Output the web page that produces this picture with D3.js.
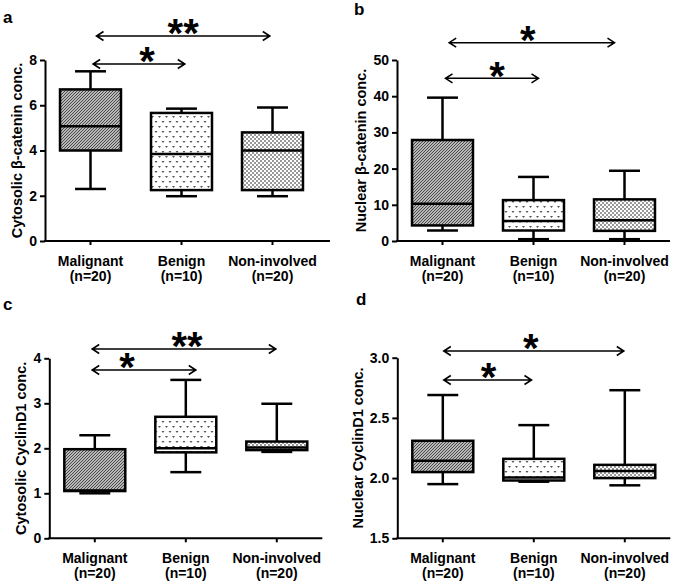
<!DOCTYPE html>
<html>
<head>
<meta charset="utf-8">
<script src="https://cdn.jsdelivr.net/npm/d3@7"></script>
<style>
  body { margin: 0; background: #fff; }
  svg { display: block; }
  text { font-family: "Liberation Sans", Arial, sans-serif; font-weight: bold; fill: #000; }
</style>
</head>
<body>
<svg id="chart" width="675" height="585"></svg>
<script>
// ---------- DATA ----------
const categories = ["Malignant", "Benign", "Non-involved"];
const nLabels = ["(n=20)", "(n=10)", "(n=20)"];

// Panel a: Cytosolic β-catenin
const aMin = [2.3, 1.98, 1.98];
const aQ1  = [4.0, 2.25, 2.25];
const aMed = [5.07, 3.84, 4.0];
const aQ3  = [6.7, 5.66, 4.8];
const aMax = [7.5, 5.85, 5.9];
const aTicks = [0, 2, 4, 6, 8];

// Panel b: Nuclear β-catenin
const bMin = [2.9, 0.5, 0.5];
const bQ1  = [4.3, 2.9, 2.8];
const bMed = [10.3, 5.5, 5.7];
const bQ3  = [27.9, 11.3, 11.5];
const bMax = [39.6, 17.7, 19.4];
const bTicks = [0, 10, 20, 30, 40, 50];

// Panel c: Cytosolic CyclinD1
const cMin = [1.0, 1.47, 1.92];
const cQ1  = [1.05, 1.91, 1.96];
const cMed = [1.06, 2.0, 2.02];
const cQ3  = [1.98, 2.70, 2.15];
const cMax = [2.29, 3.52, 2.99];
const cTicks = [0, 1, 2, 3, 4];

// Panel d: Nuclear CyclinD1
const dMin = [1.95, 1.97, 1.94];
const dQ1  = [2.05, 1.98, 2.0];
const dMed = [2.145, 2.005, 2.06];
const dQ3  = [2.31, 2.16, 2.11];
const dMax = [2.69, 2.44, 2.73];
const dTicks = [1.5, 2.0, 2.5, 3.0];

// significance annotations: [from, to, label]
const aSig = [["Malignant", "Non-involved", "**"], ["Malignant", "Benign", "*"]];
const bSig = [["Malignant", "Non-involved", "*"], ["Malignant", "Benign", "*"]];
const cSig = [["Malignant", "Non-involved", "**"], ["Malignant", "Benign", "*"]];
const dSig = [["Malignant", "Non-involved", "*"], ["Malignant", "Benign", "*"]];

// ---------- LAYOUT ----------
const panels = [
  { key: "a", x0: 45, yTop: 60, yBot: 241, axisLen: 285, domain: [0, 8], ticks: aTicks, fmt: d3.format("d"),
    title: "Cytosolic β-catenin conc.", stats: [aMin, aQ1, aMed, aQ3, aMax], sig: aSig,
    lab: [3, 23], arrowDy: [-24, 4], arrowDx: [[6, -2.7], [2.6, 3.3]], starDx: [0, 8] },
  { key: "b", x0: 397, yTop: 60, yBot: 241, axisLen: 273, domain: [0, 50], ticks: bTicks, fmt: d3.format("d"),
    title: "Nuclear β-catenin conc.", stats: [bMin, bQ1, bMed, bQ3, bMax], sig: bSig,
    lab: [354, 15], arrowDy: [-17.3, 18.3], arrowDx: [[6.7, -10], [3, 5]], starDx: [-4, 5] },
  { key: "c", x0: 49.3, yTop: 358.3, yBot: 538.3, axisLen: 273, domain: [0, 4], ticks: cTicks, fmt: d3.format("d"),
    title: "Cytosolic CyclinD1 conc.", stats: [cMin, cQ1, cMed, cQ3, cMax], sig: cSig,
    lab: [3, 310], arrowDy: [-9.3, 11.7], arrowDx: [[-2.6, -1], [-2.6, 10]], starDx: [3, -17] },
  { key: "d", x0: 397.3, yTop: 357.7, yBot: 538.3, axisLen: 273, domain: [1.5, 3.0], ticks: dTicks, fmt: d3.format(".1f"),
    title: "Nuclear CyclinD1 conc.", stats: [dMin, dQ1, dMed, dQ3, dMax], sig: dSig,
    lab: [356, 305], arrowDy: [-6.7, 22.3], arrowDx: [[1, -1], [1, -2.3]], starDx: [-3, 1] }
];

const svg = d3.select("#chart");
svg.append("rect").attr("width", 675).attr("height", 585).attr("fill", "#fff");

// ---------- PATTERNS ----------
const defs = svg.append("defs");
// Malignant: dense fine diagonal texture
const p1 = defs.append("pattern").attr("id", "pat0").attr("patternUnits", "userSpaceOnUse")
  .attr("width", 3).attr("height", 3);
p1.append("rect").attr("width", 3).attr("height", 3).attr("fill", "#b8b8b8");
p1.append("path").attr("d", "M0,2h1v1h-1z M1,1h1v1h-1z M2,0h1v1h-1z").attr("fill", "#4a4a4a");
// Benign: small v marks on white
const p2 = defs.append("pattern").attr("id", "pat1").attr("patternUnits", "userSpaceOnUse")
  .attr("width", 7).attr("height", 10);
p2.append("rect").attr("width", 7).attr("height", 10).attr("fill", "#fff");
p2.append("path").attr("d", "M0.5,1 h3 l-1.5,2 z M4,6 h3 l-1.5,2 z").attr("fill", "#555");
// Non-involved: fine checkerboard
const p3 = defs.append("pattern").attr("id", "pat2").attr("patternUnits", "userSpaceOnUse")
  .attr("width", 4).attr("height", 4);
p3.append("rect").attr("width", 4).attr("height", 4).attr("fill", "#fff");
p3.append("rect").attr("width", 2).attr("height", 2).attr("fill", "#999");
p3.append("rect").attr("x", 2).attr("y", 2).attr("width", 2).attr("height", 2).attr("fill", "#999");

// ---------- DRAW ----------
panels.forEach(p => {
  const g = svg.append("g");
  const x = d3.scaleBand().domain(categories).range([p.x0, p.x0 + 273]).paddingInner(0).paddingOuter(0);
  const y = d3.scaleLinear().domain(p.domain).range([p.yBot, p.yTop]);
  const bw = x.bandwidth();
  const boxW = bw * 0.67, capW = bw * 0.34;
  const cx = c => x(c) + bw / 2;

  // panel letter
  g.append("text").attr("x", p.lab[0]).attr("y", p.lab[1]).attr("font-size", 17).text(p.key);

  // y axis
  const yAxis = g.append("g").attr("transform", `translate(${p.x0},0)`)
    .call(d3.axisLeft(y).tickValues(p.ticks).tickFormat(p.fmt).tickSize(5).tickSizeOuter(0).tickPadding(3));
  yAxis.select(".domain").attr("stroke", "#000").attr("stroke-width", 2);
  yAxis.selectAll(".tick line").attr("stroke", "#000").attr("stroke-width", 2);
  yAxis.selectAll(".tick text").attr("font-size", 14).attr("font-family", "Liberation Sans, Arial, sans-serif")
    .attr("font-weight", "bold").attr("fill", "#000");
  let maxW = 0;
  yAxis.selectAll(".tick text").each(function () { maxW = Math.max(maxW, this.getBBox().width); });

  // y title
  const tx = p.x0 - 8 - maxW - 7, ty = (p.yTop + p.yBot) / 2;
  g.append("text").attr("transform", `translate(${tx},${ty}) rotate(-90)`)
    .attr("text-anchor", "middle").attr("font-size", 14.5).text(p.title);

  // x axis
  g.append("line").attr("x1", p.x0 - 1).attr("x2", p.x0 + p.axisLen).attr("y1", p.yBot).attr("y2", p.yBot)
    .attr("stroke", "#000").attr("stroke-width", 2);
  g.selectAll(".xt").data(categories).join("line")
    .attr("x1", cx).attr("x2", cx).attr("y1", p.yBot).attr("y2", p.yBot + 4)
    .attr("stroke", "#000").attr("stroke-width", 2);
  categories.forEach((c, i) => {
    const t = g.append("text").attr("text-anchor", "middle").attr("font-size", 14);
    t.append("tspan").attr("x", cx(c)).attr("y", p.yBot + 25).text(c);
    t.append("tspan").attr("x", cx(c)).attr("y", p.yBot + 40).text(nLabels[i]);
  });

  // boxes
  const [mn, q1, md, q3, mx] = p.stats;
  categories.forEach((c, i) => {
    const xc = cx(c);
    const line = (x1, y1, x2, y2) => g.append("line").attr("x1", x1).attr("y1", y1).attr("x2", x2).attr("y2", y2)
      .attr("stroke", "#000").attr("stroke-width", 2.5);
    // whiskers
    line(xc, y(mx[i]), xc, y(q3[i]));
    line(xc, y(q1[i]), xc, y(mn[i]));
    line(xc - capW / 2, y(mx[i]), xc + capW / 2, y(mx[i]));
    line(xc - capW / 2, y(mn[i]), xc + capW / 2, y(mn[i]));
    // box
    g.append("rect").attr("x", xc - boxW / 2).attr("y", y(q3[i])).attr("width", boxW)
      .attr("height", Math.max(0.5, y(q1[i]) - y(q3[i])))
      .attr("fill", `url(#pat${i})`).attr("stroke", "#000").attr("stroke-width", 2.5);
    // median
    line(xc - boxW / 2, y(md[i]), xc + boxW / 2, y(md[i]));
  });

  // significance arrows
  p.sig.forEach((s, k) => {
    const ay = p.yTop + p.arrowDy[k];
    const x1 = cx(s[0]) + p.arrowDx[k][0], x2 = cx(s[1]) + p.arrowDx[k][1];
    g.append("path")
      .attr("d", `M${x1},${ay}H${x2} M${x1 + 7},${ay - 4.5}L${x1},${ay}L${x1 + 7},${ay + 4.5} M${x2 - 7},${ay - 4.5}L${x2},${ay}L${x2 - 7},${ay + 4.5}`)
      .attr("fill", "none").attr("stroke", "#000").attr("stroke-width", 1.6);
    const sx = (x1 + x2) / 2 + p.starDx[k];
    const fs = 40;
    g.append("text").attr("x", sx).attr("y", ay - 11 + 0.56 * fs).attr("text-anchor", "middle")
      .attr("font-size", fs).text(s[2]);
  });
});
</script>
</body>
</html>
